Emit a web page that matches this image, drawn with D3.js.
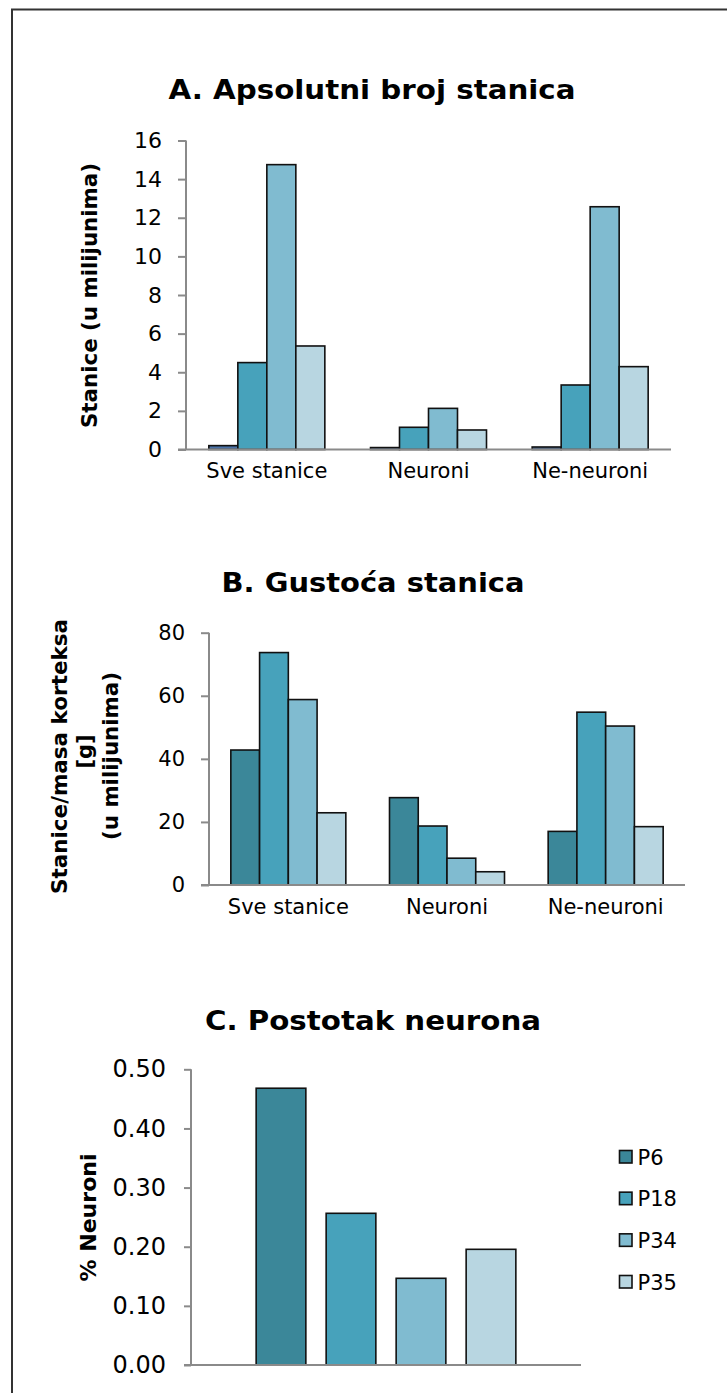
<!DOCTYPE html>
<html>
<head>
<meta charset="utf-8">
<script src="https://cdn.jsdelivr.net/npm/d3@7"></script>
<style>
  html, body { margin: 0; padding: 0; background: #fff; }
  svg { display: block; }
  text { font-family: "DejaVu Sans", Verdana, sans-serif; fill: #000; }
</style>
</head>
<body>
<svg id="chart" width="727" height="1393"></svg>
<script>
// ---------- data ----------
const series = ["P6", "P18", "P34", "P35"];
const categories = ["Sve stanice", "Neuroni", "Ne-neuroni"];

// A. Apsolutni broj stanica (u milijunima)
const absoluteP6  = [0.2, 0.1, 0.13];
const absoluteP18 = [4.5, 1.15, 3.34];
const absoluteP34 = [14.75, 2.13, 12.57];
const absoluteP35 = [5.36, 1.01, 4.29];

// B. Gustoća stanica
const densityP6  = [42.8, 27.7, 17.0];
const densityP18 = [73.7, 18.7, 54.8];
const densityP34 = [58.8, 8.5, 50.4];
const densityP35 = [22.9, 4.2, 18.5];

// C. Postotak neurona (P6, P18, P34, P35)
const neuronPercent = [0.468, 0.2565, 0.1466, 0.1956];

const ticksA = [0, 2, 4, 6, 8, 10, 12, 14, 16];
const ticksB = [0, 20, 40, 60, 80];
const ticksC = [0, 0.1, 0.2, 0.3, 0.4, 0.5];

// ---------- style ----------
const colors = ["#3b8799", "#47a2bb", "#80bbd0", "#b8d6e1"];
const colorsA = ["#4a72a8", "#47a2bb", "#80bbd0", "#b8d6e1"];
const axisColor = "#8a8a8a";

const svg = d3.select("#chart");
svg.append("rect").attr("width", 727).attr("height", 1393).attr("fill", "#fff");
// outer frame (only left and top edges visible)
svg.append("rect").attr("x", 12).attr("y", 9.5).attr("width", 900).attr("height", 1600)
  .attr("fill", "none").attr("stroke", "#333").attr("stroke-width", 2);

function fit(sel, len) {
  sel.attr("textLength", len).attr("lengthAdjust", "spacingAndGlyphs");
}

function drawChart(cfg) {
  const g = svg.append("g");
  const y = d3.scaleLinear().domain(cfg.domain).range([cfg.y0, cfg.y1]);
  const x = d3.scaleBand().domain(cfg.cats).range([cfg.x0, cfg.x1]).padding(0);
  const inner = d3.scaleBand().domain(series).range([-cfg.groupHalf, cfg.groupHalf])
    .paddingInner(cfg.pin).paddingOuter(cfg.pout);

  // title
  const t = g.append("text").attr("x", cfg.titleX).attr("y", cfg.titleY)
    .attr("text-anchor", "middle").attr("font-weight", "bold")
    .attr("font-size", 26).text(cfg.title);
  fit(t, cfg.titleW);

  // bars
  cfg.cats.forEach((c, ci) => {
    series.forEach((s, si) => {
      const v = cfg.values[si][ci];
      const cx = x(c) + x.bandwidth() / 2;
      g.append("rect")
        .attr("x", cx + inner(s))
        .attr("y", y(v))
        .attr("width", inner.bandwidth())
        .attr("height", y(0) - y(v))
        .attr("fill", cfg.colors[si])
        .attr("stroke", "#111")
        .attr("stroke-width", 1.6);
    });
  });

  // y axis
  const yAxis = d3.axisLeft(y).tickValues(cfg.ticks).tickSize(cfg.tick).tickPadding(cfg.tickPad)
    .tickFormat(cfg.fmt);
  const ya = g.append("g").attr("transform", `translate(${cfg.x0},0)`).call(yAxis);
  ya.select(".domain").attr("stroke", axisColor).attr("stroke-width", 2)
    .attr("d", `M0,${cfg.y1}V${cfg.y0}`);
  ya.selectAll(".tick line").attr("stroke", axisColor).attr("stroke-width", 2);
  ya.selectAll(".tick text").attr("font-size", cfg.tickFont).attr("fill", "#000")
    .attr("font-family", '"DejaVu Sans", Verdana, sans-serif');

  // x axis line
  const xAxis = d3.axisBottom(x).tickSize(0).tickPadding(cfg.catPad);
  const xa = g.append("g").attr("transform", `translate(0,${cfg.y0})`).call(xAxis);
  xa.select(".domain").attr("stroke", axisColor).attr("stroke-width", 2)
    .attr("d", `M${cfg.x0 - cfg.tick},0H${cfg.x1}`);
  xa.selectAll(".tick text").attr("font-size", 21).attr("fill", "#000")
    .attr("font-family", '"DejaVu Sans", Verdana, sans-serif')
    .text(d => cfg.showCats ? d : "");

  // y label
  cfg.ylabel.forEach(l => {
    const tl = g.append("text")
      .attr("transform", `translate(${l.x},${l.y}) rotate(-90)`)
      .attr("text-anchor", "middle").attr("font-weight", "bold").attr("font-size", 21)
      .text(l.text);
    if (l.w) fit(tl, l.w);
  });
  return g;
}

// ---- A ----
drawChart({
  title: "A. Apsolutni broj stanica", titleX: 372, titleY: 99, titleW: 407,
  domain: [0, 16], y0: 449.5, y1: 140.5, x0: 186, x1: 671,
  cats: categories, values: [absoluteP6, absoluteP18, absoluteP34, absoluteP35],
  colors: colorsA, groupHalf: 58, pin: 0, pout: 0,
  ticks: ticksA, fmt: d3.format("d"), tick: 8, tickPad: 16, tickFont: 22,
  catPad: 14, showCats: true,
  ylabel: [{ text: "Stanice (u milijunima)", x: 96.5, y: 295.5, w: 265 }]
});

// ---- B ----
drawChart({
  title: "B. Gustoća stanica", titleX: 373, titleY: 592, titleW: 303,
  domain: [0, 80], y0: 885, y1: 632.7, x0: 209, x1: 685,
  cats: categories, values: [densityP6, densityP18, densityP34, densityP35],
  colors: colors, groupHalf: 57.5, pin: 0, pout: 0,
  ticks: ticksB, fmt: d3.format("d"), tick: 8, tickPad: 16, tickFont: 21,
  catPad: 14, showCats: true,
  ylabel: [
    { text: "Stanice/masa  korteksa", x: 67, y: 756.5, w: 275 },
    { text: "[g]", x: 91.5, y: 751.5 },
    { text: "(u milijunima)", x: 117.5, y: 756, w: 168 }
  ]
});

// ---- C ----
const gC = drawChart({
  title: "C. Postotak neurona", titleX: 373, titleY: 1030, titleW: 336,
  domain: [0, 0.5], y0: 1365, y1: 1069.3, x0: 191, x1: 581,
  cats: [""], values: neuronPercent.map(v => [v]),
  colors: colors, groupHalf: 140, pin: 0.29, pout: 0.145,
  ticks: ticksC, fmt: d3.format(".2f"), tick: 7, tickPad: 18, tickFont: 24,
  catPad: 14, showCats: false,
  ylabel: [{ text: "% Neuroni", x: 95.5, y: 1217.5, w: 128 }]
});

// legend
const legY = d3.scalePoint().domain(series).range([1157, 1282]);
series.forEach((s, i) => {
  svg.append("rect").attr("x", 619.5).attr("y", legY(s) - 6.5).attr("width", 12.5).attr("height", 12.5)
    .attr("fill", colors[i]).attr("stroke", "#111").attr("stroke-width", 1.6);
  svg.append("text").attr("x", 637.5).attr("y", legY(s) + 7.5).attr("font-size", 21).text(s);
});
</script>
</body>
</html>
